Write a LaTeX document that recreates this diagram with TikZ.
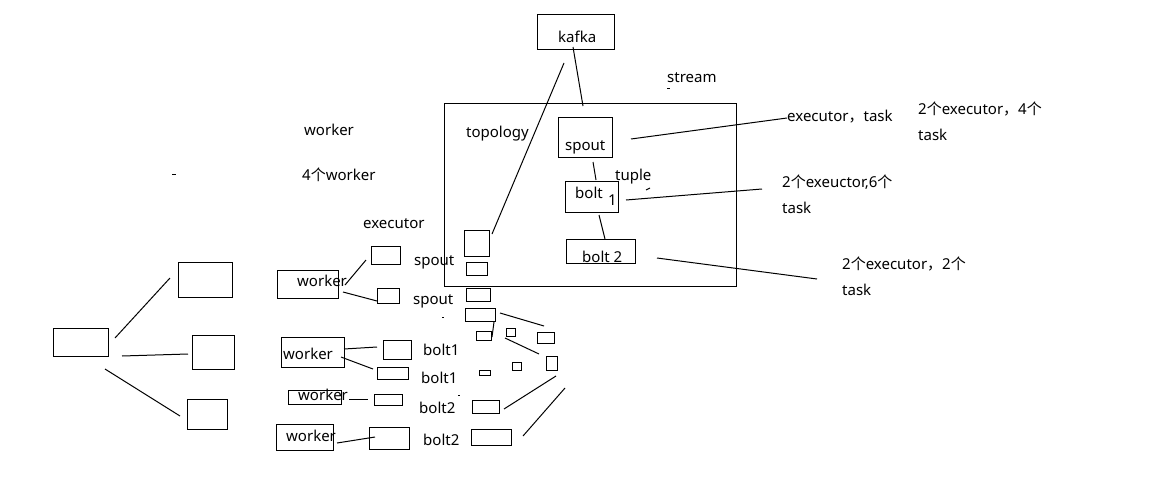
\documentclass[tikz,border=0pt]{standalone}
\usepackage{fontspec}
\setmainfont{Noto Sans}
\newfontfamily\cjk{Noto Sans CJK SC}
\newcommand\gx{{\cjk 个}}
\newcommand\fc{{\cjk ，}}
\tikzset{
  bx/.style={draw=black,line width=1pt,inner sep=0pt,rectangle},
  conn/.style={draw=black,line width=1pt},
  lbl/.style={inner sep=0pt,anchor=base west,font=\fontsize{15}{18}\selectfont,text=black}
}
% box: name, x1, y1, x2, y2
\newcommand\bxx[5]{\node[bx,minimum width={(#4-#2)*1pt},minimum height={(#5-#3)*1pt}] (#1) at ({(#2+#4)/2},{(#3+#5)/2}) {};}
\newcommand\bxw[5]{\node[bx,fill=white,minimum width={(#4-#2)*1pt},minimum height={(#5-#3)*1pt}] (#1) at ({(#2+#4)/2},{(#3+#5)/2}) {};}
% segment: name, x1, y1, x2, y2
\newcommand\seg[5]{\coordinate (#1a) at (#2,#3); \coordinate (#1b) at (#4,#5); \draw[conn] (#1a) -- (#1b);}
\newcommand\txt[4]{\node[lbl] (#1) at (#2,#3) {#4};}
\begin{document}
\begin{tikzpicture}[x=1pt,y=-1pt]
\useasboundingbox (0,0) rectangle (1159,482);
\fill[white] (0,0) rectangle (1159,482);

% texts drawn first
\txt{tkafka}{558}{42}{kafka}
\txt{tstream}{667}{82}{stream}
\txt{ttopo}{466}{137}{topology}
\txt{ttuple}{615}{180}{tuple}
\txt{tworkerA}{304}{135}{worker}
\txt{tworkerN}{302}{180}{4\gx worker}
\txt{texec}{363}{228}{executor}
\txt{tet}{787}{121}{executor\fc task}
\txt{tr1}{918}{114}{2\gx executor\fc 4\gx}
\txt{tr1b}{918}{140}{task}
\txt{tr2}{782}{187}{2\gx exeuctor,6\gx}
\txt{tr2b}{782}{213}{task}
\txt{tr3}{842}{269}{2\gx executor\fc 2\gx}
\txt{tr3b}{842}{295}{task}

% topology area boxes
\bxx{kafka}{537}{14}{614}{49}
\bxx{topo}{444}{103}{736}{286}
\bxx{spout}{558}{117}{612}{157}
\bxw{bolta}{565}{181}{618}{212}
\bxw{boltb}{566}{239}{635}{263}
\txt{tspout}{565}{150}{spout}
\txt{tbolta}{575}{198}{bolt}
\txt{tone}{608}{205}{1}
\txt{tboltb}{582}{262}{bolt 2}

\bxx{inA}{464}{230}{489}{256}
\bxx{inB}{466}{262}{487}{275}
\bxx{ca}{466}{288}{490}{301}
\bxx{cb}{465}{308}{495}{321}
\bxx{cc}{476}{331}{491}{340}
\bxx{cd}{506}{328}{515}{336}
\bxx{ce}{537}{332}{554}{343}
\bxx{cf}{546}{356}{557}{370}
\bxx{cg}{479}{370}{490}{375}
\bxx{ch}{512}{362}{521}{370}
\bxx{ci}{472}{400}{499}{413}
\bxx{cj}{471}{429}{511}{445}

% executors and workers
\bxx{ea}{371}{246}{400}{264}
\bxx{eb}{377}{288}{399}{303}
\bxx{wa}{277}{270}{338}{298}
\bxx{wb}{281}{337}{344}{367}
\bxx{ec}{383}{340}{411}{359}
\bxx{ed}{377}{367}{408}{379}
\bxx{wc}{288}{390}{341}{404}
\bxx{ee}{374}{394}{402}{405}
\bxx{wd}{276}{424}{333}{450}
\bxx{ef}{369}{427}{409}{449}

\txt{tspa}{414}{265}{spout}
\txt{twa}{297}{286}{worker}
\txt{tspb}{413}{304}{spout}
\txt{twb}{283}{359}{worker}
\txt{tba}{423}{355}{bolt1}
\txt{tbb}{421}{383}{bolt1}
\txt{twc}{298}{400}{worker}
\txt{tbc}{419}{413}{bolt2}
\txt{twd}{286}{441}{worker}
\txt{tbd}{423}{445}{bolt2}

% left machines
\bxx{la}{53}{328}{108}{356}
\bxx{lb}{178}{262}{232}{297}
\bxx{lc}{192}{335}{234}{369}
\bxx{ld}{187}{399}{227}{429}

% connectors
\seg{k1}{573}{47}{583}{106}
\seg{k2}{564}{63}{492}{234}
\seg{s1}{593}{162}{596}{180}
\seg{s2}{599}{215}{605}{239}
\seg{r1}{631}{139}{787}{118}
\seg{r2}{626}{200}{762}{189}
\seg{r3}{657}{258}{817}{279}
\seg{w1}{345}{285}{366}{260}
\seg{w2}{343}{292}{377}{301}
\seg{m1}{500}{313}{544}{326}
\seg{m2}{494}{322}{492}{337}
\seg{m3}{505}{338}{539}{354}
\seg{m4}{556}{376}{504}{409}
\seg{m5}{565}{388}{523}{436}
\seg{w3}{344}{349}{377}{347}
\seg{w4}{341}{357}{373}{369}
\seg{w5}{349}{399}{368}{399}
\seg{w6}{337}{443}{375}{437}
\seg{l1}{115}{338}{170}{278}
\seg{l2}{122}{356}{188}{354}
\seg{l3}{105}{369}{180}{416}

% stray marks
\seg{d1}{172}{174}{176}{174}
\seg{d2}{667}{88}{670}{88}
\seg{d3}{646}{190}{650}{188}
\seg{d4}{442}{317}{444}{317}
\seg{d5}{458}{395}{460}{395}
\end{tikzpicture}
\end{document}
